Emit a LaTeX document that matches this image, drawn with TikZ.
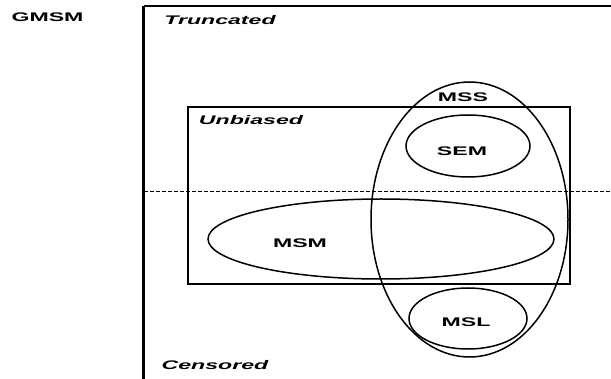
\documentclass[tikz,border=0pt]{standalone}
\usepackage{fontspec}
\setmainfont{Liberation Sans}
\usetikzlibrary{shapes.geometric}
\newcommand\wtxt[1]{\scalebox{1.85}[1]{#1}}
\tikzset{
  oval/.style={draw, ellipse, line width=1.5pt, inner sep=0pt, outer sep=0pt},
  lab/.style={inner sep=0pt, font=\fontsize{12.5}{14}\selectfont\bfseries},
  ilab/.style={inner sep=0pt, font=\fontsize{12.5}{14}\selectfont\bfseries\itshape},
}
\begin{document}
\begin{tikzpicture}[x=1pt,y=-1pt]
\useasboundingbox (0,0) rectangle (611,379);
% outer frame (open right and bottom)
\coordinate (otr) at (611,6);
\coordinate (otl) at (143.5,6);
\coordinate (obl) at (143.5,379);
\draw[line width=1.5pt] (otr) -- (otl);
\draw[line width=2.2pt] (otl) -- (obl);
% dashed split
\coordinate (dl) at (144,191.5);
\coordinate (dr) at (611,191.5);
\draw[line width=0.9pt, dash pattern=on 4pt off 2pt] (dl) -- (dr);
% unbiased rectangle
\node[draw, line width=1.8pt, inner sep=0pt, outer sep=0pt, minimum width=382pt, minimum height=177pt] (unb) at (379,195.5) {};
% ellipses
\node[oval, minimum width=197pt, minimum height=275pt] (mss) at (469.5,219.5) {};
\node[oval, minimum width=124pt, minimum height=62pt] (sem) at (468,146) {};
\node[oval, minimum width=346pt, minimum height=80pt] (msm) at (381,239) {};
\node[oval, minimum width=118pt, minimum height=61pt] (msl) at (468,318.5) {};
% labels
\node[lab] (tgmsm) at (47.5,17.5) {\wtxt{GMSM}};
\node[ilab] (ttrunc) at (220,20) {\wtxt{Truncated}};
\node[ilab] (tunb) at (251,120) {\wtxt{Unbiased}};
\node[ilab] (tcens) at (215,365) {\wtxt{Censored}};
\node[lab] (tmss) at (463,97) {\wtxt{MSS}};
\node[lab] (tsem) at (462,151) {\wtxt{SEM}};
\node[lab] (tmsm) at (300,243) {\wtxt{MSM}};
\node[lab] (tmsl) at (466,322) {\wtxt{MSL}};
\end{tikzpicture}
\end{document}
